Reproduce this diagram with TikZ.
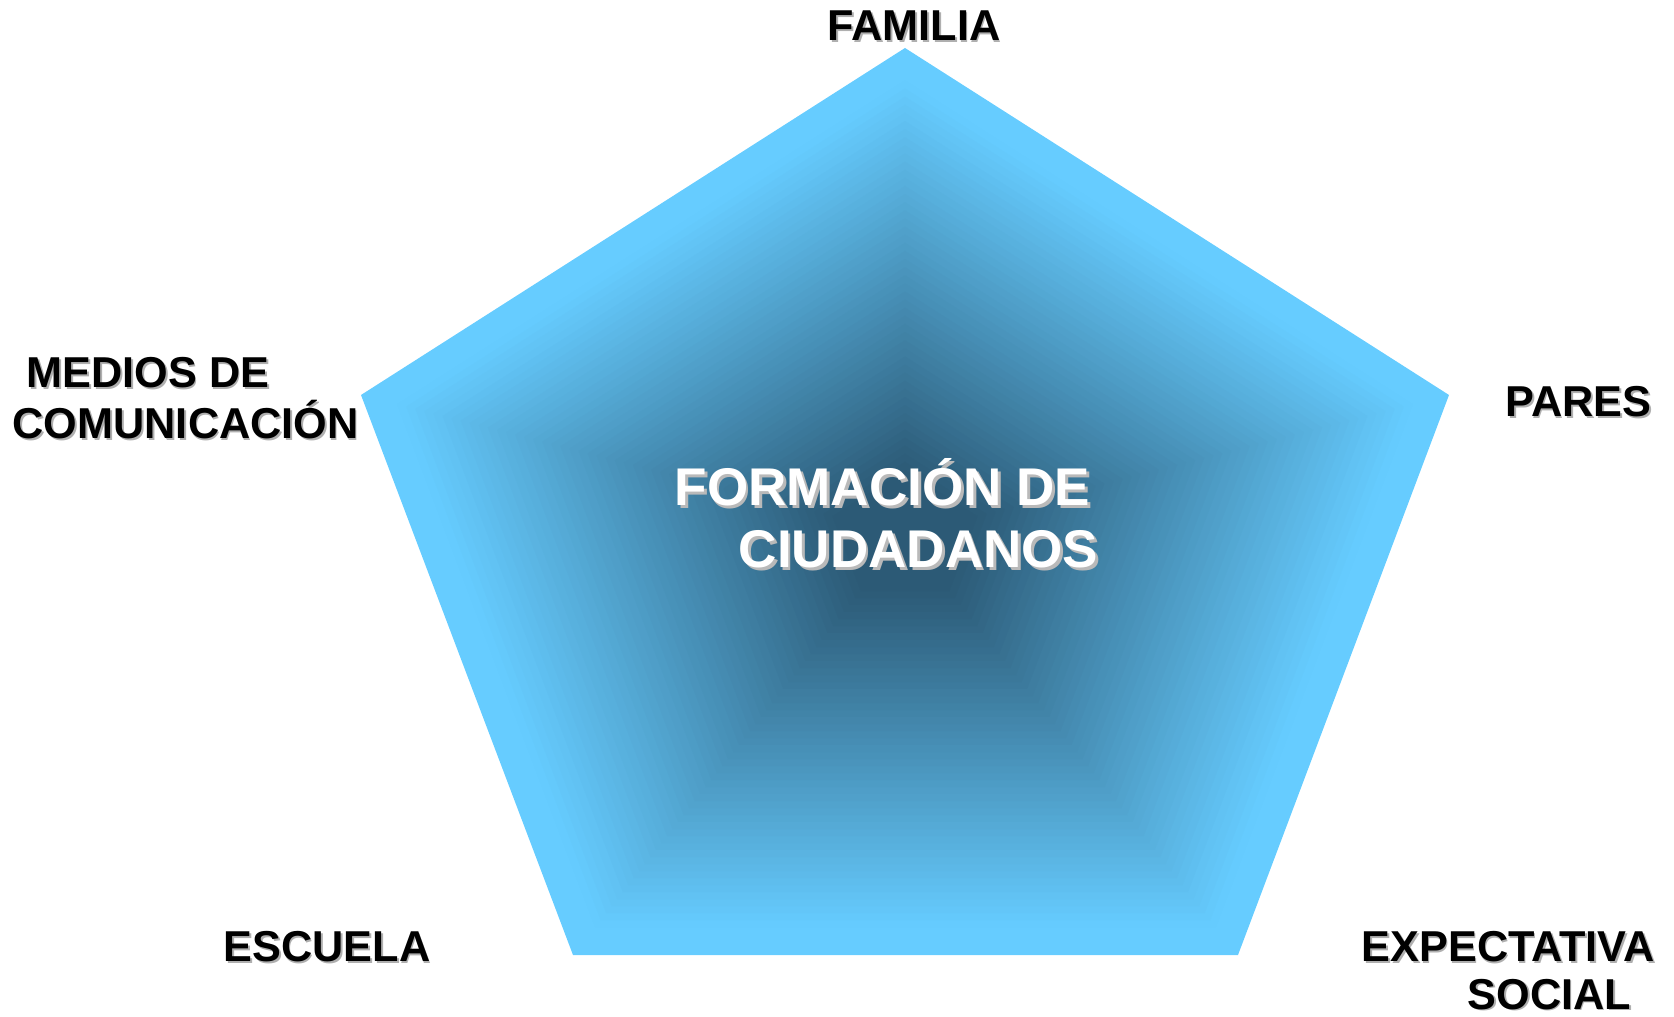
\documentclass[tikz,border=0pt]{standalone}
\usepackage{fontspec}
\setmainfont{Liberation Sans}
\usetikzlibrary{calc}

\definecolor{skyblue}{RGB}{102,204,255}
\definecolor{deepblue}{RGB}{44,90,118}
\definecolor{shadowgray}{RGB}{175,175,175}
\definecolor{lightshadow}{RGB}{185,185,185}

% text with a small drop shadow behind it
\newcommand{\shadowtxt}[3]{\makebox[0pt][l]{\hspace{#2}\raisebox{-#2}{\color{#1}#3}}#3}

\tikzset{
  factor/.style={font=\fontsize{12.3}{14}\selectfont\bfseries, inner sep=0pt, text=black},
  title/.style={font=\fontsize{15.1}{17}\selectfont\bfseries, inner sep=0pt, text=white}
}

\begin{document}
\begin{tikzpicture}
    \useasboundingbox (0,0) rectangle (16.74,-10.17);
    \coordinate (c) at (9.05,-5.35);
    \coordinate (p1) at (9.05,-0.48);
    \coordinate (p2) at (14.49,-3.95);
    \coordinate (p3) at (12.38,-9.55);
    \coordinate (p4) at (5.73,-9.55);
    \coordinate (p5) at (3.61,-3.95);

    % path gradient from the centre out to the edge
    \foreach \i in {0,...,60} {
      \pgfmathsetmacro{\s}{1-\i/60}
      \pgfmathsetmacro{\d}{min(100,max(0,100*(0.94-\s)/0.8))}
      \fill [deepblue!\d!skyblue] ($(c)!\s!(p1)$) -- ($(c)!\s!(p2)$) -- ($(c)!\s!(p3)$)
        -- ($(c)!\s!(p4)$) -- ($(c)!\s!(p5)$) -- cycle;
    }

    \node [factor, anchor=base] (familia) at (9.14,-0.41) {\shadowtxt{shadowgray}{0.45pt}{FAMILIA}};
    \node [factor, anchor=base west] (medios) at (0.26,-3.88) {\shadowtxt{shadowgray}{0.45pt}{MEDIOS DE}};
    \node [factor, anchor=base west] (comunicacion) at (0.12,-4.39) {\shadowtxt{shadowgray}{0.45pt}{COMUNICACIÓN}};
    \node [factor, anchor=base west] (pares) at (15.05,-4.17) {\shadowtxt{shadowgray}{0.45pt}{PARES}};
    \node [factor, anchor=base west] (escuela) at (2.23,-9.62) {\shadowtxt{shadowgray}{0.45pt}{ESCUELA}};
    \node [factor, anchor=base west] (expectativa) at (13.61,-9.62) {\shadowtxt{shadowgray}{0.45pt}{EXPECTATIVA}};
    \node [factor, anchor=base west] (social) at (14.67,-10.09) {\shadowtxt{shadowgray}{0.45pt}{SOCIAL}};

    \node [title, anchor=base west] (formacion) at (6.74,-5.06) {\shadowtxt{lightshadow}{0.8pt}{FORMACIÓN DE}};
    \node [title, anchor=base west] (ciudadanos) at (7.38,-5.68) {\shadowtxt{lightshadow}{0.8pt}{CIUDADANOS}};
\end{tikzpicture}
\end{document}
